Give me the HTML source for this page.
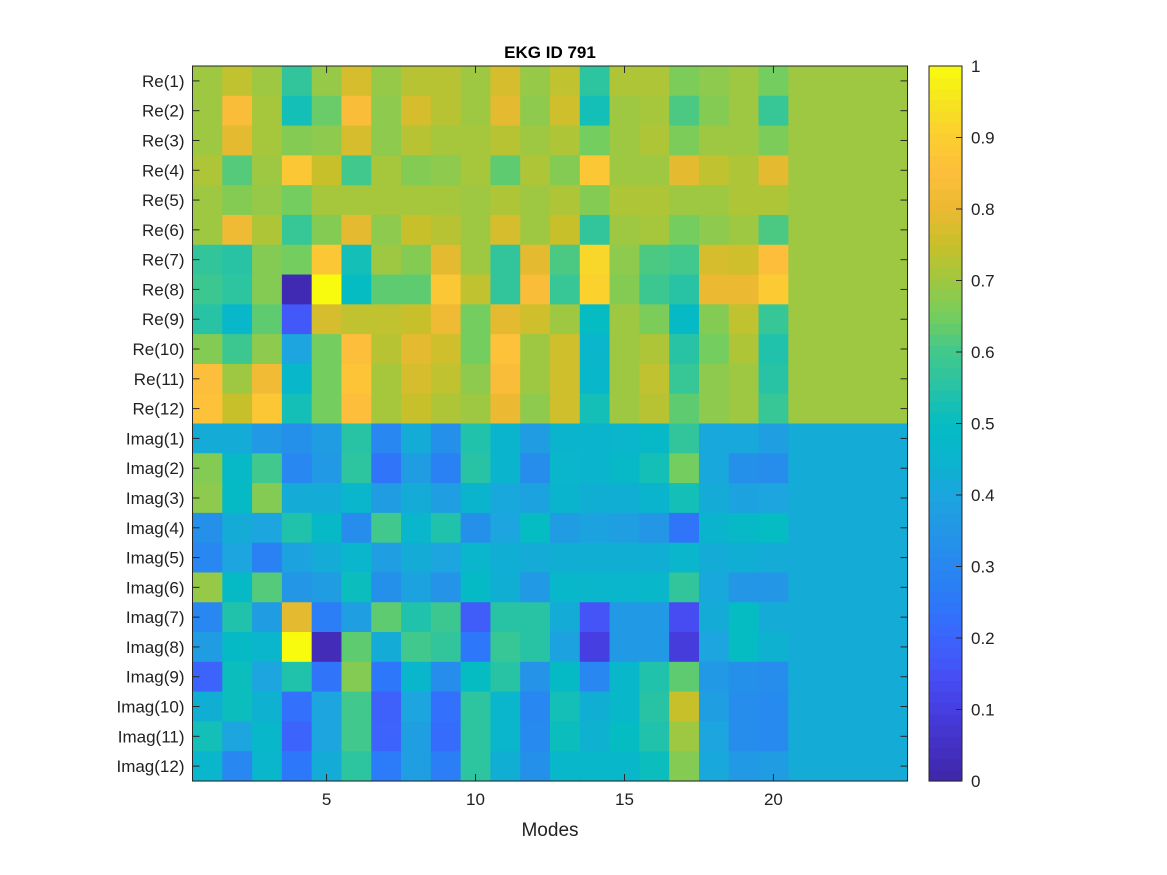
<!DOCTYPE html>
<html><head><meta charset="utf-8"><style>
html,body{margin:0;padding:0;background:#fff;}
svg{display:block;font-family:"Liberation Sans",Arial,sans-serif;}
</style></head><body>
<svg id="chart" width="1167" height="875" viewBox="0 0 1167 875" xmlns="http://www.w3.org/2000/svg">
<rect width="1167" height="875" fill="#fff"/>
<text x="550" y="58" text-anchor="middle" font-size="17" font-weight="bold" fill="#000">EKG ID 791</text>
<g id="cells"></g>
<g id="axes"></g>
<g id="cbar"></g>
<text x="550" y="836" text-anchor="middle" font-size="19" fill="#222">Modes</text>
</svg>
<script>
const rowLabels = ["Re(1)","Re(2)","Re(3)","Re(4)","Re(5)","Re(6)","Re(7)","Re(8)","Re(9)","Re(10)","Re(11)","Re(12)",
"Imag(1)","Imag(2)","Imag(3)","Imag(4)","Imag(5)","Imag(6)","Imag(7)","Imag(8)","Imag(9)","Imag(10)","Imag(11)","Imag(12)"];
const xTicks = [5,10,15,20];
const cbTicks = [0,0.1,0.2,0.3,0.4,0.5,0.6,0.7,0.8,0.9,1];
const cbTickLabels = ["0","0.1","0.2","0.3","0.4","0.5","0.6","0.7","0.8","0.9","1"];
const nCols = 24;
const reTail = 0.7;
const imTail = 0.42;
const values = [
[0.7,0.74,0.7,0.57,0.69,0.77,0.69,0.73,0.73,0.7, 0.77,0.69,0.74,0.56,0.72,0.72,0.66,0.68,0.7,0.65],
[0.7,0.84,0.71,0.52,0.64,0.84,0.68,0.77,0.73,0.7, 0.79,0.68,0.76,0.52,0.7,0.71,0.61,0.67,0.7,0.58],
[0.7,0.79,0.71,0.67,0.68,0.77,0.68,0.73,0.71,0.71, 0.73,0.7,0.72,0.65,0.7,0.72,0.66,0.7,0.7,0.66],
[0.72,0.62,0.7,0.88,0.75,0.6,0.71,0.67,0.68,0.71, 0.63,0.72,0.67,0.88,0.7,0.7,0.79,0.74,0.72,0.79],
[0.7,0.67,0.69,0.65,0.71,0.71,0.71,0.71,0.71,0.7, 0.72,0.7,0.72,0.67,0.72,0.72,0.7,0.7,0.72,0.72],
[0.7,0.81,0.72,0.58,0.67,0.79,0.68,0.75,0.73,0.7, 0.77,0.7,0.75,0.57,0.7,0.71,0.65,0.68,0.7,0.61],
[0.57,0.55,0.67,0.65,0.88,0.52,0.7,0.67,0.79,0.7, 0.57,0.79,0.61,0.92,0.68,0.61,0.6,0.77,0.76,0.85],
[0.59,0.56,0.67,0.02,1.0,0.5,0.63,0.63,0.88,0.74, 0.57,0.84,0.58,0.91,0.67,0.59,0.55,0.8,0.8,0.89],
[0.55,0.47,0.63,0.17,0.77,0.74,0.74,0.75,0.81,0.65, 0.79,0.76,0.7,0.5,0.7,0.66,0.49,0.67,0.74,0.58],
[0.67,0.59,0.68,0.4,0.65,0.85,0.73,0.79,0.76,0.65, 0.86,0.7,0.76,0.46,0.7,0.72,0.55,0.65,0.72,0.54],
[0.85,0.7,0.82,0.47,0.65,0.87,0.71,0.77,0.74,0.68, 0.84,0.7,0.76,0.47,0.7,0.74,0.58,0.68,0.7,0.55],
[0.86,0.75,0.88,0.52,0.65,0.85,0.71,0.75,0.72,0.7, 0.8,0.68,0.76,0.52,0.7,0.73,0.63,0.68,0.7,0.58],
[0.42,0.42,0.36,0.33,0.37,0.55,0.3,0.42,0.33,0.54, 0.45,0.37,0.45,0.45,0.46,0.48,0.57,0.41,0.41,0.38],
[0.67,0.48,0.6,0.3,0.36,0.56,0.24,0.37,0.28,0.55, 0.45,0.32,0.46,0.45,0.48,0.52,0.65,0.41,0.33,0.32],
[0.68,0.49,0.67,0.42,0.42,0.46,0.37,0.42,0.38,0.45, 0.41,0.39,0.45,0.43,0.43,0.45,0.52,0.42,0.39,0.4],
[0.33,0.42,0.4,0.54,0.48,0.32,0.6,0.46,0.54,0.33, 0.4,0.5,0.37,0.39,0.38,0.35,0.24,0.45,0.48,0.5],
[0.3,0.4,0.28,0.39,0.42,0.46,0.38,0.42,0.4,0.46, 0.43,0.42,0.43,0.43,0.43,0.43,0.46,0.42,0.43,0.42],
[0.69,0.49,0.62,0.35,0.37,0.51,0.33,0.39,0.34,0.49, 0.43,0.36,0.47,0.46,0.46,0.47,0.57,0.41,0.35,0.35],
[0.3,0.54,0.37,0.79,0.27,0.38,0.63,0.54,0.59,0.18, 0.55,0.55,0.42,0.16,0.36,0.36,0.14,0.42,0.5,0.42],
[0.37,0.49,0.46,1.0,0.03,0.63,0.42,0.6,0.57,0.25, 0.58,0.55,0.39,0.1,0.36,0.36,0.09,0.4,0.5,0.44],
[0.2,0.51,0.4,0.54,0.24,0.67,0.25,0.46,0.32,0.5, 0.55,0.34,0.49,0.3,0.47,0.54,0.63,0.36,0.33,0.32],
[0.43,0.51,0.44,0.23,0.4,0.6,0.19,0.4,0.23,0.56, 0.46,0.3,0.52,0.43,0.47,0.55,0.75,0.38,0.32,0.31],
[0.52,0.4,0.47,0.2,0.4,0.6,0.2,0.38,0.22,0.56, 0.46,0.31,0.51,0.44,0.5,0.54,0.7,0.4,0.32,0.31],
[0.46,0.3,0.46,0.25,0.42,0.56,0.26,0.38,0.27,0.56, 0.43,0.33,0.47,0.47,0.47,0.51,0.67,0.41,0.36,0.37]
];
const NS="http://www.w3.org/2000/svg";
const L=192.5, T=66, W=715, H=715;
const cw=W/nCols, rh=H/rowLabels.length;
const xPos = c => L + (c-0.5)*cw;      // c: 1-based column
const yPos = r => T + (r+0.5)*rh;      // r: 0-based row
const stops=[[0,62,38,168],[0.05,68,48,195],[0.1,70,62,225],[0.15,70,80,245],[0.2,60,100,252],[0.25,45,120,250],[0.3,40,135,240],[0.35,35,150,230],[0.4,28,165,222],[0.45,10,180,205],[0.5,5,188,195],[0.55,40,195,165],[0.6,65,200,140],[0.65,115,205,95],[0.7,158,200,65],[0.75,200,192,42],[0.8,235,185,50],[0.85,253,190,60],[0.9,252,205,48],[0.95,245,228,32],[1,249,251,14]];
function cmap(v){v=Math.max(0,Math.min(1,v));for(let i=1;i<stops.length;i++){if(v<=stops[i][0]){const a=stops[i-1],b=stops[i],t=(v-a[0])/(b[0]-a[0]);return `rgb(${[1,2,3].map(k=>Math.round(a[k]+t*(b[k]-a[k]))).join(',')})`;}}return 'rgb(249,251,14)';}
function mk(tag,attrs,parent){const e=document.createElementNS(NS,tag);for(const k in attrs)e.setAttribute(k,attrs[k]);parent.appendChild(e);return e;}
const cells=document.getElementById('cells');
rowLabels.forEach((lab,r)=>{
  for(let c=1;c<=nCols;c++){
    const v = c<=values[r].length ? values[r][c-1] : (r<12?reTail:imTail);
    const e=mk('rect',{x:(xPos(c)-cw/2).toFixed(2),y:(yPos(r)-rh/2).toFixed(2),width:(cw+0.6).toFixed(2),height:(rh+0.6).toFixed(2),fill:cmap(v)},cells);
    
    
  }
});
const axes=document.getElementById('axes');
const box=mk('rect',{x:L,y:T,width:W,height:H,fill:'none',stroke:'#262626','stroke-width':1},axes);


rowLabels.forEach((lab,r)=>{
  const y=yPos(r);
  mk('line',{x1:L,x2:L+7,y1:y,y2:y,stroke:'#262626'},axes);
  mk('line',{x1:L+W,x2:L+W-7,y1:y,y2:y,stroke:'#262626'},axes);
  const t=mk('text',{x:L-8,y:y+6,'text-anchor':'end','font-size':17,fill:'#222'},axes);
  t.textContent=lab;
  
  
});
xTicks.forEach(v=>{
  const x=xPos(v);
  mk('line',{x1:x,x2:x,y1:T,y2:T+7,stroke:'#262626'},axes);
  mk('line',{x1:x,x2:x,y1:T+H,y2:T+H-7,stroke:'#262626'},axes);
  const t=mk('text',{x:x,y:T+H+24,'text-anchor':'middle','font-size':17,fill:'#222'},axes);
  t.textContent=String(v);
  
  
});
const cb=document.getElementById('cbar');
const CX=929, CW=33, CT=66, CH=715;
const N=64;
for(let i=0;i<N;i++){
  const v=(i+0.5)/N;
  const e=mk('rect',{x:CX,y:(CT+CH-(i+1)*CH/N).toFixed(2),width:CW,height:(CH/N+0.6).toFixed(2),fill:cmap(v)},cb);
  
  
}
mk('rect',{x:CX,y:CT,width:CW,height:CH,fill:'none',stroke:'#262626'},cb);
cbTicks.forEach((v,i)=>{
  const y=CT+CH-v*CH;
  mk('line',{x1:CX+CW,x2:CX+CW-6,y1:y,y2:y,stroke:'#262626'},cb);
  const t=mk('text',{x:CX+CW+9,y:y+6,'font-size':17,fill:'#222'},cb);
  t.textContent=cbTickLabels[i];
  
  
});
</script>
</body></html>
